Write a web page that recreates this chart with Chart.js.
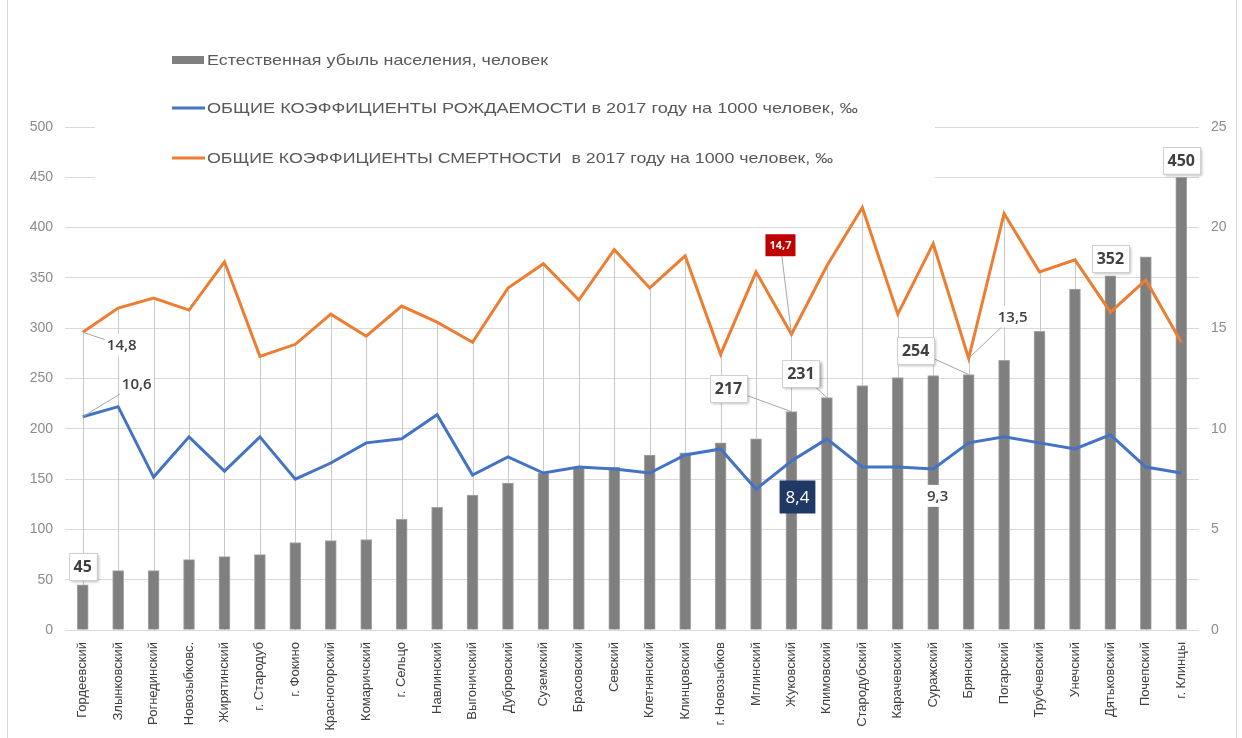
<!DOCTYPE html>
<html>
<head>
<meta charset="utf-8">
<script src="https://cdn.jsdelivr.net/npm/chart.js@4.4.1/dist/chart.umd.min.js"></script>
<style>
  html, body { margin: 0; padding: 0; background: #fff; }
  #wrap { width: 1242px; height: 738px; }
</style>
</head>
<body>
<div id="wrap"><canvas id="myChart" width="1242" height="738"></canvas></div>
<script>
let districts = [
  "Гордеевский", "Злынковский", "Рогнединский", "Новозыбковс.", "Жирятинский",
  "г. Стародуб", "г. Фокино", "Красногорский", "Комаричский", "г. Сельцо",
  "Навлинский", "Выгоничский", "Дубровский", "Суземский", "Брасовский",
  "Севский", "Клетнянский", "Клинцовский", "г. Новозыбков", "Мглинский",
  "Жуковский", "Климовский", "Стародубский", "Карачевский", "Суражский",
  "Брянский", "Погарский", "Трубчевский", "Унечский", "Дятьковский",
  "Почепский", "г. Клинцы"
];

// естественная убыль, человек (левая ось)
let naturalLoss = [45, 59, 59, 70, 73, 75, 87, 89, 90, 110, 122, 134, 146, 156, 161, 162,
  174, 176, 186, 190, 217, 231, 243, 251, 253, 254, 268, 297, 339, 352, 371, 450];

// коэффициенты на 1000 человек (правая ось)
let birthRate = [10.6, 11.1, 7.6, 9.6, 7.9, 9.6, 7.5, 8.3, 9.3, 9.5, 10.7, 7.7, 8.6, 7.8, 8.1, 8.0,
  7.8, 8.7, 9.0, 7.0, 8.4, 9.5, 8.1, 8.1, 8.0, 9.3, 9.6, 9.3, 9.0, 9.7, 8.1, 7.8];
let deathRate = [14.8, 16.0, 16.5, 15.9, 18.3, 13.6, 14.2, 15.7, 14.6, 16.1, 15.3, 14.3, 17.0, 18.2, 16.4, 18.9,
  17.0, 18.6, 13.7, 17.8, 14.7, 18.1, 21.0, 15.7, 19.2, 13.5, 20.7, 17.8, 18.4, 15.8, 17.4, 14.3];

let legendNames = [
  "Естественная убыль населения, человек",
  "ОБЩИЕ КОЭФФИЦИЕНТЫ РОЖДАЕМОСТИ в 2017 году на 1000 человек, ‰",
  "ОБЩИЕ КОЭФФИЦИЕНТЫ СМЕРТНОСТИ  в 2017 году на 1000 человек, ‰"
];

const BLUE = "#4472C4";
const ORANGE = "#ED7D31";
const GREY = "#7f7f7f";

// which points get a data label (dataset index, point index) and how it looks
const callouts = [
  { ds: 2, i: 0,  dx: 0,   dy: -18, look: "box" },
  { ds: 1, i: 0,  dx: 39,  dy: 13,  look: "plain", leader: true },
  { ds: 0, i: 0,  dx: 54,  dy: -33, look: "plain", leader: true },
  { ds: 2, i: 20, dx: -63, dy: -23, look: "box", leader: true },
  { ds: 2, i: 21, dx: -26, dy: -24, look: "box", leader: true },
  { ds: 0, i: 20, dx: 6,   dy: 36,  look: "dark" },
  { ds: 1, i: 20, dx: -11, dy: -89, look: "red", leader: true },
  { ds: 2, i: 25, dx: -53, dy: -24, look: "box", leader: true },
  { ds: 0, i: 25, dx: -31, dy: 53,  look: "plain" },
  { ds: 1, i: 25, dx: 44,  dy: -42, look: "plain", leader: true },
  { ds: 2, i: 29, dx: 0,   dy: -17, look: "box" },
  { ds: 2, i: 31, dx: 0,   dy: -17, look: "box" }
];

function fmt(v) {
  return Number.isInteger(v) ? String(v) : v.toFixed(1).replace(".", ",");
}

// drop lines + legend panel (drawn over the grid, under the series)
const backdrop = {
  id: "backdrop",
  beforeDraw(chart) {
    let c = chart.ctx;
    c.save();
    c.strokeStyle = "#d9d9d9";
    c.lineWidth = 1;
    c.beginPath();
    c.moveTo(7.5, 0); c.lineTo(7.5, 738);
    c.moveTo(1236.5, 0); c.lineTo(1236.5, 738);
    c.stroke();
    c.restore();
  },
  beforeDatasetsDraw(chart) {
    let c = chart.ctx;
    let area = chart.chartArea;
    let death = chart.getDatasetMeta(1).data;
    c.save();
    c.strokeStyle = "#c8c8c8";
    c.lineWidth = 1;
    death.forEach(pt => {
      let x = Math.round(pt.x) + 0.5;
      c.beginPath();
      c.moveTo(x, pt.y);
      c.lineTo(x, area.bottom);
      c.stroke();
    });

    // legend
    c.fillStyle = "#fff";
    c.fillRect(95, 30, 840, 158);
    let rows = [
      { kind: "rect", color: GREY, y: 60, w: 341 },
      { kind: "line", color: BLUE, y: 108, w: 651 },
      { kind: "line", color: ORANGE, y: 158, w: 626 }
    ];
    c.font = '15px "Liberation Sans"';
    c.textBaseline = "middle";
    c.textAlign = "left";
    rows.forEach((r, k) => {
      if (r.kind === "rect") {
        c.fillStyle = r.color;
        c.fillRect(172, r.y - 4, 32, 8);
      } else {
        c.strokeStyle = r.color;
        c.lineWidth = 3;
        c.beginPath();
        c.moveTo(172, r.y); c.lineTo(205, r.y);
        c.stroke();
      }
      let natural = c.measureText(legendNames[k]).width;
      c.save();
      c.translate(207, r.y + 1);
      c.scale(r.w / natural, 1);
      c.fillStyle = "#595959";
      c.fillText(legendNames[k], 0, 0);
      c.restore();
    });
    c.restore();
  }
};

const labelsPlugin = {
  id: "callouts",
  afterDatasetsDraw(chart) {
    let c = chart.ctx;
    c.save();
    callouts.forEach(o => {
      let pt = chart.getDatasetMeta(o.ds).data[o.i];
      let value = chart.data.datasets[o.ds].data[o.i];
      let text = fmt(value);
      let cx = pt.x + o.dx, cy = pt.y + o.dy;
      let font, fg, bg, h, pad, shadow = false, border = null;
      if (o.look === "box") {
        font = 'bold 16px "Open Sans"'; fg = "#404040"; bg = "#fff"; h = 27; pad = 5; shadow = true; border = "#d0d0d0";
      } else if (o.look === "dark") {
        font = '17px "Open Sans"'; fg = "#fff"; bg = "#1f3864"; h = 33; pad = 6;
      } else if (o.look === "red") {
        font = 'bold 11px "Open Sans"'; fg = "#fff"; bg = "#c00000"; h = 22; pad = 4;
      } else {
        font = '600 15px "Open Sans"'; fg = "#404040"; bg = "#fff"; h = 22; pad = 2;
      }
      c.font = font;
      let w = c.measureText(text).width + pad * 2;
      if (o.leader) {
        c.strokeStyle = "#a6a6a6";
        c.lineWidth = 1;
        c.beginPath();
        c.moveTo(pt.x, pt.y);
        c.lineTo(cx, cy);
        c.stroke();
      }
      c.save();
      if (shadow) {
        c.shadowColor = "rgba(0,0,0,0.35)";
        c.shadowOffsetX = 2;
        c.shadowOffsetY = 2;
        c.shadowBlur = 3;
      }
      c.fillStyle = bg;
      c.fillRect(cx - w / 2, cy - h / 2, w, h);
      c.restore();
      if (border) {
        c.strokeStyle = border;
        c.lineWidth = 1;
        c.strokeRect(Math.round(cx - w / 2) + 0.5, Math.round(cy - h / 2) + 0.5, Math.round(w), h);
      }
      c.fillStyle = fg;
      c.textAlign = "center";
      c.textBaseline = "middle";
      c.fillText(text, cx, cy + 1);
    });
    c.restore();
  }
};

let ctx = document.getElementById("myChart").getContext("2d");

let chart = new Chart(ctx, {
  data: {
    labels: districts,
    datasets: [
      {
        type: "line",
        label: legendNames[1],
        data: birthRate,
        yAxisID: "y1",
        borderColor: BLUE,
        borderWidth: 3,
        pointRadius: 0,
        tension: 0,
        order: 1
      },
      {
        type: "line",
        label: legendNames[2],
        data: deathRate,
        yAxisID: "y1",
        borderColor: ORANGE,
        borderWidth: 3,
        pointRadius: 0,
        tension: 0,
        order: 2
      },
      {
        type: "bar",
        label: legendNames[0],
        data: naturalLoss,
        yAxisID: "y",
        backgroundColor: GREY,
        borderColor: "#a5a5a5",
        borderWidth: 1,
        barThickness: 11,
        order: 3
      }
    ]
  },
  plugins: [backdrop, labelsPlugin],
  options: {
    responsive: false,
    animation: false,
    layout: { padding: { top: 127, left: 0, right: 0, bottom: 0 } },
    plugins: {
      legend: { display: false },
      tooltip: { enabled: false }
    },
    scales: {
      x: {
        grid: { display: false },
        border: { display: false },
        ticks: {
          autoSkip: false,
          minRotation: 90,
          maxRotation: 90,
          padding: 4,
          color: "#404040",
          font: { family: "Liberation Sans", size: 13 }
        },
        afterFit: s => { s.height = 108; }
      },
      y: {
        position: "left",
        min: 0,
        max: 500,
        ticks: {
          stepSize: 50,
          padding: 12,
          color: "#8c8c8c",
          font: { family: "Liberation Sans", size: 14 }
        },
        grid: { color: "#d9d9d9", drawTicks: false },
        border: { display: false },
        afterFit: s => { s.width = 65; }
      },
      y1: {
        position: "right",
        min: 0,
        max: 25,
        ticks: {
          stepSize: 5,
          padding: 12,
          color: "#8c8c8c",
          font: { family: "Liberation Sans", size: 14 }
        },
        grid: { display: false, drawTicks: false },
        border: { display: false },
        afterFit: s => { s.width = 43; }
      }
    }
  }
});
</script>
</body>
</html>
